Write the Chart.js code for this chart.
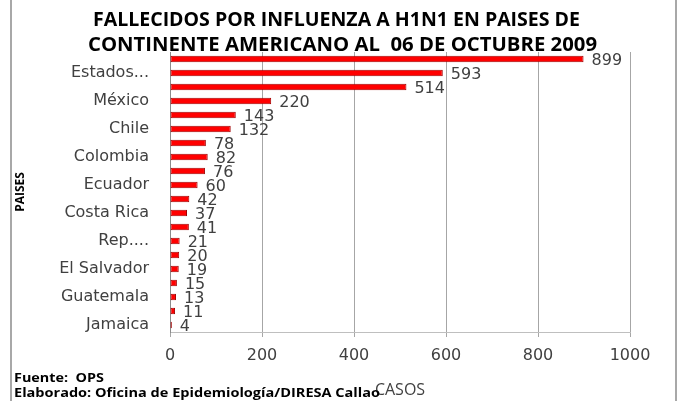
<!DOCTYPE html>
<html>
<head>
<meta charset="utf-8">
<script src="https://cdn.jsdelivr.net/npm/chart.js@4"></script>
<style>
  html, body { margin: 0; padding: 0; background: #fff; }
  #wrap { width: 681px; height: 401px; position: relative; }
</style>
</head>
<body>
<div id="wrap"><canvas id="grafico"></canvas></div>
<script>
// datos (de arriba hacia abajo)
const paises = ['Brasil', 'Estados Unidos', 'Argentina', 'México', 'Perú', 'Chile', 'Canadá',
    'Colombia', 'Venezuela', 'Ecuador', 'Paraguay', 'Costa Rica', 'Uruguay', 'Rep. Dominicana',
    'Bolivia', 'El Salvador', 'Honduras', 'Guatemala', 'Panamá', 'Jamaica'];
const fallecidos = [899, 593, 514, 220, 143, 132, 78, 82, 76, 60, 42, 37, 41, 21, 20, 19, 15, 13, 11, 4];
// etiquetas visibles en el eje (Excel muestra una de cada dos)
const etiquetasEje = ['', 'Estados...', '', 'México', '', 'Chile', '', 'Colombia', '', 'Ecuador',
    '', 'Costa Rica', '', 'Rep....', '', 'El Salvador', '', 'Guatemala', '', 'Jamaica'];
const ejeCasos = { min: 0, max: 1000, paso: 200 };
const titulo = ['FALLECIDOS POR INFLUENZA A H1N1 EN PAISES DE', 'CONTINENTE AMERICANO AL  06 DE OCTUBRE 2009'];
const notas = ['Fuente:  OPS', 'Elaborado: Oficina de Epidemiología/DIRESA Callao'];

const gris = '#404040';

// escribe un texto estirado a lo ancho (la imagen original esta algo ensanchada)
function textoAncho(ctx, texto, x, y, ancho) {
    const w = ctx.measureText(texto).width;
    const k = ancho / w;
    ctx.save();
    ctx.translate(x, y);
    ctx.scale(k, 1);
    ctx.fillText(texto, 0, 0);
    ctx.restore();
}

// titulo, notas, marco y valores de las barras
const extras = {
    id: 'extras',
    afterDatasetsDraw(chart) {
        const ctx = chart.ctx;
        const meta = chart.getDatasetMeta(0);
        ctx.save();
        ctx.font = '16px "DejaVu Sans"';
        ctx.fillStyle = gris;
        ctx.textBaseline = 'middle';
        ctx.textAlign = 'left';
        meta.data.forEach((bar, i) => {
            ctx.fillText(String(fallecidos[i]), bar.x + 8, bar.y + 2);
        });
        ctx.restore();
    },
    afterDraw(chart) {
        const ctx = chart.ctx;
        ctx.save();
        // marco lateral
        ctx.strokeStyle = '#8c8c8c';
        ctx.lineWidth = 1.5;
        ctx.beginPath();
        ctx.moveTo(11, 0); ctx.lineTo(11, 401);
        ctx.moveTo(676, 0); ctx.lineTo(676, 401);
        ctx.stroke();
        // titulo
        ctx.fillStyle = '#000';
        ctx.textBaseline = 'middle';
        ctx.textAlign = 'left';
        ctx.font = 'bold 19px "Open Sans"';
        textoAncho(ctx, titulo[0], 93, 21, 487);
        textoAncho(ctx, titulo[1], 88, 46, 509);
        // notas
        ctx.font = 'bold 12px "Open Sans"';
        textoAncho(ctx, notas[0], 14, 379, 90);
        textoAncho(ctx, notas[1], 14, 394, 366);
        ctx.restore();
    }
};

new Chart(document.getElementById('grafico'), {
    type: 'bar',
    data: {
        labels: paises,
        datasets: [{
            data: fallecidos,
            backgroundColor: '#ff0000',
            borderColor: '#a00000',
            borderWidth: 1,
            borderSkipped: false,
            barPercentage: 0.48,
            categoryPercentage: 1
        }]
    },
    options: {
        indexAxis: 'y',
        responsive: true,
        maintainAspectRatio: false,
        animation: false,
        layout: { padding: { top: 52, right: 51, left: 0, bottom: 0 } },
        plugins: {
            legend: { display: false },
            tooltip: { enabled: false }
        },
        scales: {
            x: {
                min: ejeCasos.min,
                max: ejeCasos.max,
                ticks: {
                    stepSize: ejeCasos.paso,
                    color: gris,
                    padding: 9,
                    font: { family: 'DejaVu Sans', size: 16 },
                    callback: v => String(v)
                },
                grid: { color: '#a6a6a6', tickLength: 5 },
                border: { color: '#bfbfbf' },
                title: {
                    display: true,
                    text: 'CASOS',
                    color: gris,
                    font: { family: 'Open Sans', size: 16 },
                    padding: { top: 0, bottom: 1 }
                },
                afterFit(scale) { scale.height = 69; }
            },
            y: {
                ticks: {
                    autoSkip: false,
                    color: gris,
                    padding: 21,
                    font: { family: 'DejaVu Sans', size: 16 },
                    callback: (v, i) => etiquetasEje[i]
                },
                grid: { display: false, drawTicks: false },
                border: { color: '#8c8c8c' },
                title: {
                    display: true,
                    text: 'PAISES',
                    color: '#000',
                    font: { family: 'Open Sans', size: 12, weight: 'bold' },
                    padding: { top: 13, bottom: 0 }
                },
                afterFit(scale) { scale.width = 170; }
            }
        }
    },
    plugins: [extras]
});
</script>
</body>
</html>
